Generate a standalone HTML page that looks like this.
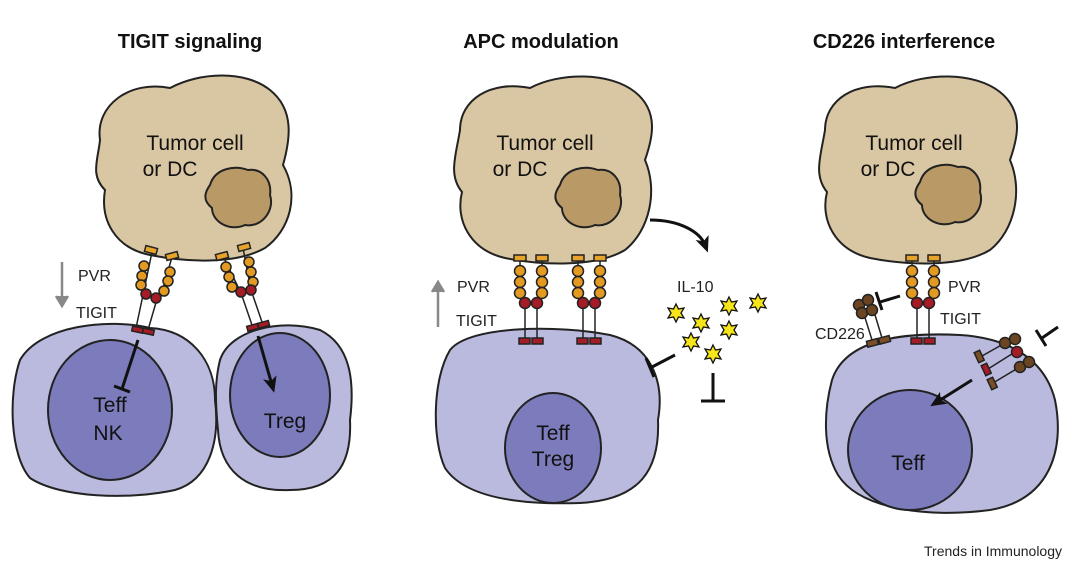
<!DOCTYPE html>
<html><head><meta charset="utf-8"><style>
html,body{margin:0;padding:0;background:#fff;}
svg{display:block;font-family:"Liberation Sans","DejaVu Sans",sans-serif;}
</style></head><body>
<svg width="1080" height="569" viewBox="0 0 1080 569" xmlns="http://www.w3.org/2000/svg">
<defs>
<g id="star"><polygon points="0,-9 2.5,-4 8,-5 5,0 8,5 2.5,4 0,9 -2.5,4 -8,5 -5,0 -8,-5 -2.5,-4" fill="#f5e51a" stroke="#111" stroke-width="1.3"/></g>
<marker id="ah" markerWidth="16" markerHeight="14" refX="8" refY="7" orient="auto" markerUnits="userSpaceOnUse"><path d="M0,0 L16,7 L0,14 L4,7z" fill="#111"/></marker>
<g id="vp" stroke="#222" stroke-width="1.5">
<line x1="0" y1="0" x2="0" y2="40"/><line x1="22" y1="0" x2="22" y2="40"/>
<rect x="-6" y="-3" width="12" height="6" fill="#e8a32a"/><rect x="16" y="-3" width="12" height="6" fill="#e8a32a"/>
<circle cx="0" cy="13" r="5.5" fill="#e39a22"/><circle cx="0" cy="24" r="5.5" fill="#e39a22"/><circle cx="0" cy="35" r="5.5" fill="#e39a22"/>
<circle cx="22" cy="13" r="5.5" fill="#e39a22"/><circle cx="22" cy="24" r="5.5" fill="#e39a22"/><circle cx="22" cy="35" r="5.5" fill="#e39a22"/>
<line x1="5" y1="50" x2="5" y2="82"/><line x1="17" y1="50" x2="17" y2="82"/>
<circle cx="5" cy="45" r="5.5" fill="#a51b26"/><circle cx="17" cy="45" r="5.5" fill="#a51b26"/>
<rect x="-1" y="80" width="11" height="6" fill="#a51b26"/><rect x="12" y="80" width="11" height="6" fill="#a51b26"/>
</g>
</defs>
<g font-weight="bold" font-size="20" fill="#111" text-anchor="middle">
<text x="190" y="48">TIGIT signaling</text>
<text x="541" y="48">APC modulation</text>
<text x="904" y="48">CD226 interference</text>
</g>
<g stroke="#222" stroke-width="2">
<path d="M20,360 C40,325 110,318 150,328 C190,330 215,360 215,400 C220,440 210,480 175,490 C130,500 60,498 30,478 C10,455 8,395 20,360Z" fill="#babade"/>
<ellipse cx="110" cy="410" rx="62" ry="70" fill="#7c7cbc"/>
<path d="M220,360 C230,330 280,318 320,330 C350,345 355,380 350,420 C352,465 335,490 290,490 C245,492 220,470 218,430 C215,400 215,380 220,360Z" fill="#babade"/>
<ellipse cx="280" cy="395" rx="50" ry="62" fill="#7c7cbc"/>
<path d="M100,140 C95,105 130,80 170,88 C200,72 245,70 270,90 C295,110 290,140 283,165 C300,195 290,230 265,248 C235,265 185,262 150,255 C115,248 100,220 105,190 C90,175 98,160 100,140Z" fill="#d9c6a2"/>
<path d="M210,185 C215,168 235,165 248,170 C262,168 272,180 270,195 C275,210 262,228 245,225 C230,232 212,222 212,208 C202,200 205,192 210,185Z" fill="#b99a67"/>
<path d="M450,350 C470,325 560,325 610,335 C650,345 665,380 658,420 C660,470 640,500 580,503 C520,505 465,498 445,468 C432,440 432,380 450,350Z" fill="#babade"/>
<ellipse cx="553" cy="448" rx="48" ry="55" fill="#7c7cbc"/>
<path d="M460,130 C460,100 490,80 530,88 C560,72 610,72 635,92 C660,112 652,140 645,160 C658,190 650,230 625,250 C595,268 540,265 505,258 C470,250 455,220 462,192 C448,175 456,155 460,130Z" fill="#d9c6a2"/>
<path d="M560,185 C565,168 585,165 598,170 C612,168 622,180 620,195 C625,210 612,228 595,225 C580,232 562,222 562,208 C552,200 555,192 560,185Z" fill="#b99a67"/>
<path d="M832,380 C845,340 900,332 960,335 C1010,338 1045,360 1055,400 C1065,450 1050,500 990,510 C930,518 860,510 838,475 C822,448 824,410 832,380Z" fill="#babade"/>
<ellipse cx="910" cy="450" rx="62" ry="60" fill="#7c7cbc"/>
<path d="M825,130 C825,100 855,80 895,88 C925,72 975,72 1000,92 C1025,112 1017,140 1010,160 C1023,190 1015,230 990,250 C960,268 905,265 870,258 C835,250 820,220 827,192 C813,175 821,155 825,130Z" fill="#d9c6a2"/>
<path d="M920,182 C925,165 945,162 958,167 C972,165 982,177 980,192 C985,207 972,225 955,222 C940,229 922,219 922,205 C912,197 915,189 920,182Z" fill="#b99a67"/>
</g>
<g stroke="#222" stroke-width="1.5">
<line x1="152" y1="252" x2="143" y2="295"/><line x1="172" y1="257" x2="160" y2="299"/>
<line x1="143" y1="295" x2="136" y2="328"/><line x1="157" y1="299" x2="148" y2="330"/>
<rect x="145" y="247" width="12" height="6" fill="#e8a32a" transform="rotate(15 151 250)"/>
<rect x="166" y="253" width="12" height="6" fill="#e8a32a" transform="rotate(-15 172 256)"/>
<circle cx="144" cy="266" r="5" fill="#e39a22"/><circle cx="142" cy="276" r="5" fill="#e39a22"/><circle cx="141" cy="285" r="5" fill="#e39a22"/>
<circle cx="170" cy="272" r="5" fill="#e39a22"/><circle cx="168" cy="281" r="5" fill="#e39a22"/><circle cx="164" cy="291" r="5" fill="#e39a22"/>
<circle cx="146" cy="294" r="5" fill="#a51b26"/><circle cx="156" cy="298" r="5" fill="#a51b26"/>
<rect x="132" y="327" width="11" height="5" fill="#a51b26" transform="rotate(12 137 330)"/><rect x="143" y="329" width="11" height="5" fill="#a51b26" transform="rotate(12 148 331)"/>
<line x1="223" y1="256" x2="241" y2="293"/><line x1="243" y1="248" x2="251" y2="290"/>
<line x1="241" y1="293" x2="252" y2="325"/><line x1="251" y1="290" x2="262" y2="322"/>
<rect x="216" y="253" width="12" height="6" fill="#e8a32a" transform="rotate(-15 222 256)"/>
<rect x="238" y="244" width="12" height="6" fill="#e8a32a" transform="rotate(-15 244 247)"/>
<circle cx="226" cy="267" r="5" fill="#e39a22"/><circle cx="229" cy="277" r="5" fill="#e39a22"/><circle cx="232" cy="287" r="5" fill="#e39a22"/>
<circle cx="249" cy="262" r="5" fill="#e39a22"/><circle cx="251" cy="272" r="5" fill="#e39a22"/><circle cx="253" cy="282" r="5" fill="#e39a22"/>
<circle cx="241" cy="292" r="5" fill="#a51b26"/><circle cx="251" cy="290" r="5" fill="#a51b26"/>
<rect x="247" y="325" width="11" height="5" fill="#a51b26" transform="rotate(-15 252 327)"/><rect x="258" y="322" width="11" height="5" fill="#a51b26" transform="rotate(-15 263 324)"/>
</g>
<use href="#vp" transform="translate(520,258)"/>
<use href="#vp" transform="translate(578,258)"/>
<use href="#vp" transform="translate(912,258)"/>
<g stroke="#222" stroke-width="1.5">
<line x1="862" y1="308" x2="872" y2="340"/><line x1="872" y1="305" x2="882" y2="338"/>
<circle cx="859" cy="305" r="5.5" fill="#6b4421"/><circle cx="868" cy="300" r="5.5" fill="#6b4421"/>
<circle cx="862" cy="313" r="5.5" fill="#6b4421"/><circle cx="872" cy="310" r="5.5" fill="#6b4421"/>
<rect x="867" y="340" width="11" height="6" fill="#7a4f26" transform="rotate(-15 872 343)"/><rect x="879" y="337" width="11" height="6" fill="#7a4f26" transform="rotate(-15 884 340)"/>
<line x1="982" y1="356" x2="1005" y2="343"/><line x1="988" y1="369" x2="1015" y2="352"/><line x1="993" y1="383" x2="1018" y2="368"/>
<circle cx="1005" cy="343" r="5.5" fill="#6b4421"/><circle cx="1015" cy="339" r="5.5" fill="#6b4421"/>
<circle cx="1017" cy="352" r="5.5" fill="#a51b26"/>
<circle cx="1020" cy="367" r="5.5" fill="#6b4421"/><circle cx="1029" cy="362" r="5.5" fill="#6b4421"/>
<rect x="976" y="351" width="6" height="11" fill="#7a4f26" transform="rotate(-25 979 356)"/>
<rect x="983" y="364" width="6" height="11" fill="#a51b26" transform="rotate(-25 986 369)"/>
<rect x="989" y="378" width="6" height="11" fill="#7a4f26" transform="rotate(-25 992 383)"/>
</g>
<g stroke="#111" stroke-width="3" fill="none">
<line x1="138" y1="340" x2="122" y2="389"/><line x1="114" y1="386" x2="130" y2="392"/>
<line x1="258" y1="336" x2="272" y2="385" marker-end="url(#ah)"/>
<path d="M650,220 C680,220 700,232 705,245" marker-end="url(#ah)"/>
<line x1="675" y1="355" x2="652" y2="367"/><line x1="646" y1="358" x2="654" y2="377"/>
<line x1="713" y1="373" x2="713" y2="400"/><line x1="701" y1="401" x2="725" y2="401"/>
<line x1="900" y1="296" x2="880" y2="302"/><line x1="876" y1="292" x2="882" y2="310"/>
<line x1="1058" y1="327" x2="1042" y2="338"/><line x1="1036" y1="330" x2="1046" y2="346"/>
<line x1="972" y1="380" x2="937" y2="402" marker-end="url(#ah)"/>
</g>
<g stroke="#888" stroke-width="2.5" fill="none">
<line x1="62" y1="262" x2="62" y2="298"/><path d="M56,296 L62,306 L68,296" fill="#888"/>
<line x1="438" y1="327" x2="438" y2="290"/><path d="M432,292 L438,282 L444,292" fill="#888"/>
</g>
<use href="#star" x="676" y="313"/><use href="#star" x="701" y="323"/><use href="#star" x="729" y="306"/>
<use href="#star" x="758" y="303"/><use href="#star" x="729" y="330"/><use href="#star" x="691" y="342"/><use href="#star" x="713" y="354"/>
<g font-size="16" fill="#222">
<text x="78" y="281">PVR</text><text x="76" y="318">TIGIT</text>
<text x="457" y="292">PVR</text><text x="456" y="326">TIGIT</text>
<text x="677" y="292">IL-10</text>
<text x="948" y="292">PVR</text><text x="940" y="324">TIGIT</text>
<text x="815" y="339">CD226</text>
</g>
<g font-size="21" fill="#111" text-anchor="middle">
<text x="195" y="150">Tumor cell</text><text x="170" y="176">or DC</text>
<text x="545" y="150">Tumor cell</text><text x="520" y="176">or DC</text>
<text x="914" y="150">Tumor cell</text><text x="888" y="176">or DC</text>
<text x="110" y="412">Teff</text><text x="108" y="440">NK</text>
<text x="285" y="428">Treg</text>
<text x="553" y="440">Teff</text><text x="553" y="466">Treg</text>
<text x="908" y="470">Teff</text>
</g>
<text x="1062" y="556" font-size="14" fill="#222" text-anchor="end">Trends in Immunology</text>
</svg>
</body></html>
